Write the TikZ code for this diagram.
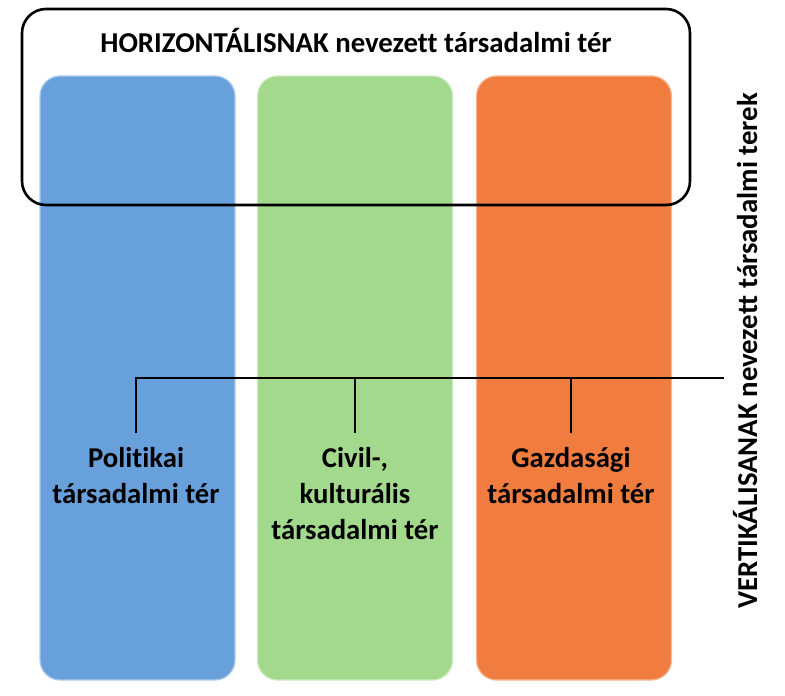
\documentclass[tikz,border=0pt]{standalone}
\usepackage{fontspec}
\setmainfont[Ligatures=NoCommon]{Carlito}
\definecolor{cblue}{HTML}{67A0DB}
\definecolor{cgreen}{HTML}{A2D98C}
\definecolor{corange}{HTML}{F07D3F}
\tikzset{
  col/.style={rectangle, rounded corners=20pt, minimum width=195pt, minimum height=604pt, inner sep=0pt, line width=1.2pt},
  lbl/.style={align=center, font=\fontsize{28.7}{36}\selectfont\bfseries, inner xsep=0pt, inner ysep=14pt, anchor=north},
  big/.style={font=\fontsize{28.8}{34}\selectfont\bfseries, inner sep=0pt},
  conn/.style={line width=2pt, black}
}
\begin{document}
\begin{tikzpicture}[x=1pt,y=-1pt]
\useasboundingbox (0,0) rectangle (785,696);
% columns
\node[col, fill=cblue, draw=cblue!55!white] (blue) at (137.5,378) {};
\node[col, fill=cgreen, draw=cgreen!55!white] (green) at (355,378) {};
\node[col, fill=corange, draw=corange!55!white] (orange) at (574,378) {};
% horizontal frame
\node[draw, line width=2.6pt, rounded corners=24pt, minimum width=668pt, minimum height=196pt, inner sep=0pt] (hframe) at (356,107) {};
\node[big, anchor=base] (htitle) at (356,52) {HORIZONTÁLISNAK nevezett társadalmi tér};
% vertical label
\node[big, rotate=90, anchor=base] (vtitle) at (757,351) {VERTIKÁLISANAK nevezett társadalmi terek};
% labels
\node[lbl] (pol) at (136,433) {Politikai\\társadalmi tér};
\node[lbl] (civ) at (355,433) {Civil-,\\kulturális\\társadalmi tér};
\node[lbl] (gaz) at (571,433) {Gazdasági\\társadalmi tér};
% connectors
\coordinate (busR) at (724,378);
\draw[conn] (pol.north) |- (busR);
\draw[conn] (civ.north) -- (civ.north |- busR);
\draw[conn] (gaz.north) -- (gaz.north |- busR);
\end{tikzpicture}
\end{document}
